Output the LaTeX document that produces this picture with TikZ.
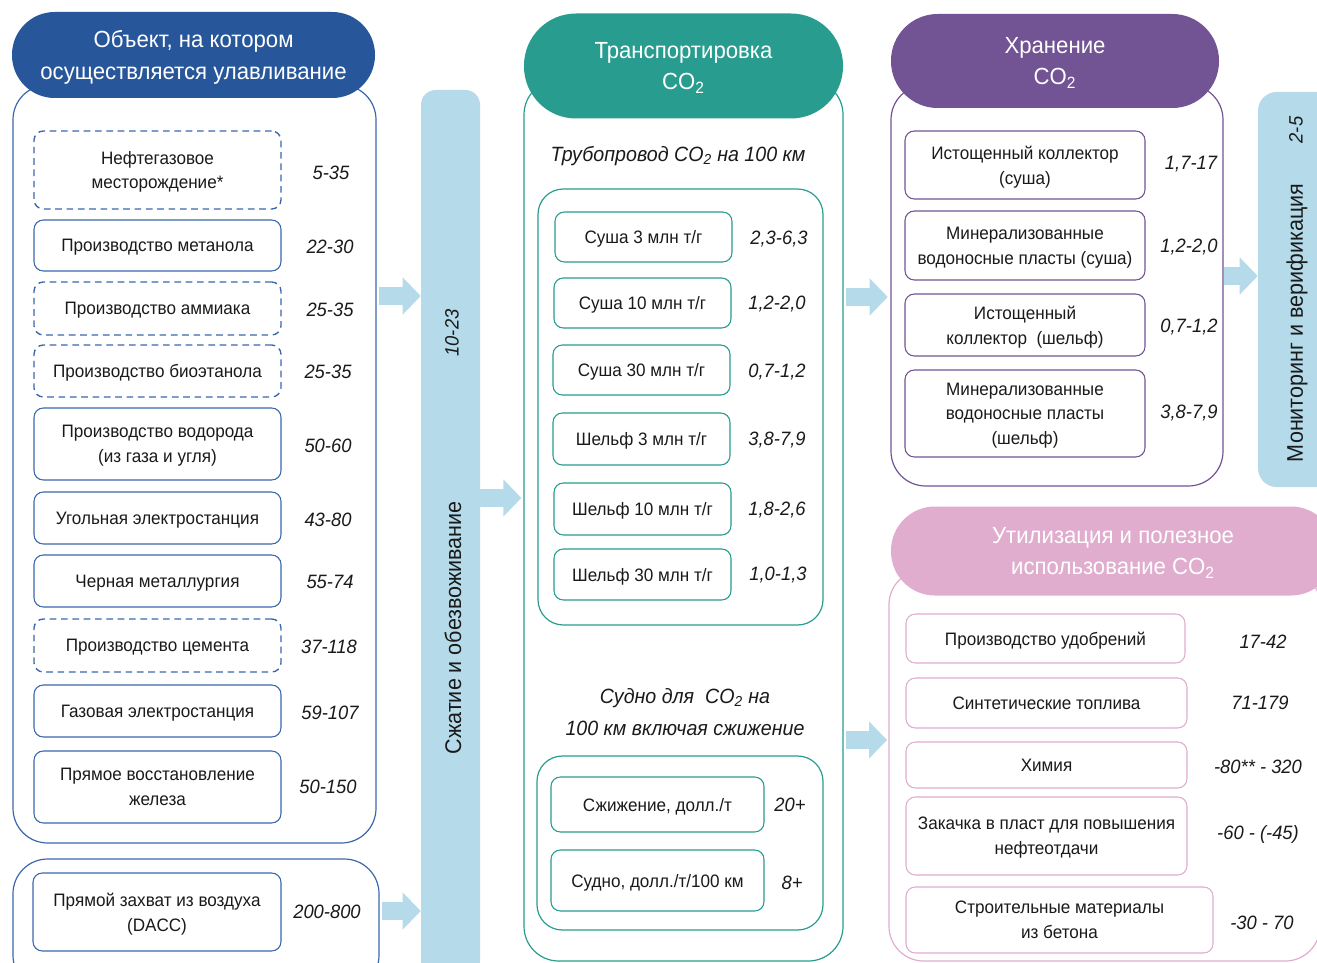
\documentclass[tikz,border=0pt]{standalone}
\usepackage{fontspec}
\setmainfont{Liberation Sans}[FakeStretch=0.95]
\usepackage{xcolor}
\usepackage{tikz}
\usetikzlibrary{arrows.meta,positioning}

\definecolor{capblue}{HTML}{27579A}
\definecolor{capline}{HTML}{3A68AB}
\definecolor{trteal}{HTML}{279C8F}
\definecolor{stpurple}{HTML}{725393}
\definecolor{utpink}{HTML}{E0ADCF}
\definecolor{barblue}{HTML}{B5DAEA}
\definecolor{ink}{HTML}{1A1A1A}

\begin{document}
\begin{tikzpicture}[x=0.75pt,y=-0.75pt,
panel/.style={draw=#1,line width=0.9pt,rounded corners=26pt},
head/.style={fill=#1,text=white,align=center,text depth=0pt,font=\fontsize{17.5}{23.5}\selectfont},
box/.style={draw=#1,line width=0.8pt,fill=white,rounded corners=7pt,align=center,inner sep=2pt,text depth=0pt,text=ink,font=\fontsize{13.5}{18.5}\selectfont},
dbox/.style={box=#1,line width=1pt,dash pattern=on 5pt off 3.5pt},
val/.style={text=ink,font=\fontsize{14.5}{18}\selectfont\itshape},
sub/.style={text=ink,align=center,font=\fontsize{15.5}{24}\selectfont\itshape},
bar/.style={fill=barblue,rounded corners=11pt},
vtext/.style={rotate=90,text=ink,font=\fontsize{17}{20}\selectfont},
flow/.style={draw=barblue,line width=14pt,-{Triangle[length=13.5pt,width=27pt]}},
wh/.style 2 args={minimum width=#1*0.75pt,minimum height=#2*0.75pt}
]
\useasboundingbox (0,0) rectangle (1317,963);
\clip (0,0) rectangle (1317,963);

% capture
\node[panel=capline,wh={363}{758}] (capture) at (194.5,464) {};
\node[head=capblue,wh={363}{86},rounded corners=32pt] (capturehd) at (193.5,55) {Объект, на котором\\осуществляется улавливание};
\node[dbox=capline,wh={247}{78}] (oilgas) at (157.5,170) {Нефтегазовое\\месторождение*};
\node[box=capline,wh={247}{51}] (methanol) at (157.5,245.5) {Производство метанола};
\node[dbox=capline,wh={247}{53}] (ammonia) at (157.5,308.5) {Производство аммиака};
\node[dbox=capline,wh={247}{52}] (bioeth) at (157.5,371) {Производство биоэтанола};
\node[box=capline,wh={247}{72}] (hydrogen) at (157.5,444) {Производство водорода\\(из газа и угля)};
\node[box=capline,wh={247}{52}] (coal) at (157.5,518) {Угольная электростанция};
\node[box=capline,wh={247}{52}] (steel) at (157.5,581) {Черная металлургия};
\node[dbox=capline,wh={247}{53}] (cement) at (157.5,645.5) {Производство цемента};
\node[box=capline,wh={247}{52}] (gas) at (157.5,711) {Газовая электростанция};
\node[box=capline,wh={247}{72}] (dri) at (157.5,787) {Прямое восстановление\\железа};
\node[val] at (331,173) {5-35};
\node[val] at (330,247) {22-30};
\node[val] at (330,310) {25-35};
\node[val] at (328,372) {25-35};
\node[val] at (328,446) {50-60};
\node[val] at (328,520) {43-80};
\node[val] at (330,582) {55-74};
\node[val] at (329,647) {37-118};
\node[val] at (330,713) {59-107};
\node[val] at (328,787) {50-150};

% direct air capture
\node[panel=capline,wh={366}{131}] (daccpanel) at (196,924.5) {};
\node[box=capline,wh={248}{78}] (dacc) at (157,912) {Прямой захват из воздуха\\(DACC)};
\node[val] at (327,912) {200-800};

% compression
\node[bar,wh={59}{885}] (compress) at (450.5,532.5) {};
\node[vtext] at (453,628) {Сжатие и обезвоживание};
\node[vtext,font=\fontsize{14.5}{18}\selectfont\itshape] at (452,333) {10-23};

% transport
\node[panel=trteal,wh={319}{881}] (transport) at (683.5,520.5) {};
\node[head=trteal,wh={319}{105},rounded corners=39pt] (transporthd) at (683.5,66) {Транспортировка\\CO\textsubscript{2}};
\node[sub] (pipehd) at (678,156) {Трубопровод CO\textsubscript{2} на 100 км};
\node[panel=trteal,rounded corners=19pt,wh={285}{436}] (pipe) at (680.5,407) {};
\node[box=trteal,wh={177}{50}] (land3) at (643.5,237) {Суша 3 млн т/г};
\node[box=trteal,wh={177}{50}] (land10) at (642.5,303) {Суша 10 млн т/г};
\node[box=trteal,wh={177}{50}] (land30) at (641.5,370) {Суша 30 млн т/г};
\node[box=trteal,wh={177}{52}] (shelf3) at (641.5,439) {Шельф 3 млн т/г};
\node[box=trteal,wh={177}{52}] (shelf10) at (642.5,509) {Шельф 10 млн т/г};
\node[box=trteal,wh={177}{51}] (shelf30) at (642.5,574.5) {Шельф 30 млн т/г};
\node[val] at (779,239) {2,3-6,3};
\node[val] at (777,304) {1,2-2,0};
\node[val] at (777,372) {0,7-1,2};
\node[val] at (777,440) {3,8-7,9};
\node[val] at (777,510) {1,8-2,6};
\node[val] at (778,575) {1,0-1,3};
\node[sub] (shiphd) at (685,712) {Судно для\ \ CO\textsubscript{2} на\\100 км включая сжижение};
\node[panel=trteal,rounded corners=19pt,wh={286}{174}] (ship) at (680,843) {};
\node[box=trteal,wh={213}{55}] (liquef) at (657.5,804.5) {Сжижение, долл./т};
\node[box=trteal,wh={213}{61}] (vessel) at (657.5,880.5) {Судно, долл./т/100 км};
\node[val] at (790,805) {20+};
\node[val] at (792,883) {8+};

% storage
\node[panel=stpurple,wh={332}{401}] (storage) at (1057,285.5) {};
\node[head=stpurple,wh={328}{94},rounded corners=35pt] (storagehd) at (1055,61) {Хранение\\CO\textsubscript{2}};
\node[box=stpurple,wh={240}{68}] (deplon) at (1025,165) {Истощенный коллектор\\(суша)};
\node[box=stpurple,wh={240}{69}] (salon) at (1025,245.5) {Минерализованные\\водоносные пласты (суша)};
\node[box=stpurple,wh={240}{62}] (depoff) at (1025,325) {Истощенный\\коллектор\ \ (шельф)};
\node[box=stpurple,wh={240}{87}] (saloff) at (1025,413.5) {Минерализованные\\водоносные пласты\\(шельф)};
\node[val] at (1191,164) {1,7-17};
\node[val] at (1189,247) {1,2-2,0};
\node[val] at (1189,327) {0,7-1,2};
\node[val] at (1189,413) {3,8-7,9};

% monitoring
\node[bar,rounded corners=14pt,wh={82}{395}] (monitor) at (1299,289.5) {};
\node[vtext] at (1297,323) {Мониторинг и верификация};
\node[vtext,font=\fontsize{14.5}{18}\selectfont\itshape] at (1296,130) {2-5};

% utilisation
\node[panel=utpink,wh={431}{391}] (usage) at (1104.5,765.5) {};
\node[head=utpink,wh={444}{89},rounded corners=33pt] (usagehd) at (1113,551) {Утилизация и полезное\\использование CO\textsubscript{2}};
\node[box=utpink,wh={279}{49}] (fert) at (1045.5,638.5) {Производство удобрений};
\node[box=utpink,wh={281}{50}] (fuel) at (1046.5,703) {Синтетические топлива};
\node[box=utpink,wh={281}{46}] (chem) at (1046.5,765) {Химия};
\node[box=utpink,wh={281}{78}] (eor) at (1046.5,836) {Закачка в пласт для повышения\\нефтеотдачи};
\node[box=utpink,wh={307}{66}] (concrete) at (1059.5,920) {Строительные материалы\\из бетона};
\node[val] at (1263,642) {17-42};
\node[val] at (1260,703) {71-179};
\node[val] at (1258,767) {-80** - 320};
\node[val] at (1258,834) {-60 - (-45)};
\node[val] at (1262,923) {-30 - 70};

% flows
\coordinate (r1) at (0,296);
\coordinate (r2) at (0,911);
\coordinate (r3) at (0,498);
\coordinate (r4) at (0,297);
\coordinate (r5) at (0,740);
\coordinate (r6) at (0,276);
\draw[flow,shorten <=2pt] (capture.east |- r1) -- (compress.west |- r1);
\draw[flow,shorten <=2pt] (daccpanel.east |- r2) -- (compress.west |- r2);
\draw[flow,shorten >=1.5pt] (compress.east |- r3) -- (transport.west |- r3);
\draw[flow,shorten <=1.5pt,shorten >=2pt] (transport.east |- r4) -- (storage.west |- r4);
\draw[flow,shorten <=1.5pt,shorten >=1pt] (transport.east |- r5) -- (usage.west |- r5);
\draw[flow] (storage.east |- r6) -- (monitor.west |- r6);
\end{tikzpicture}
\end{document}
